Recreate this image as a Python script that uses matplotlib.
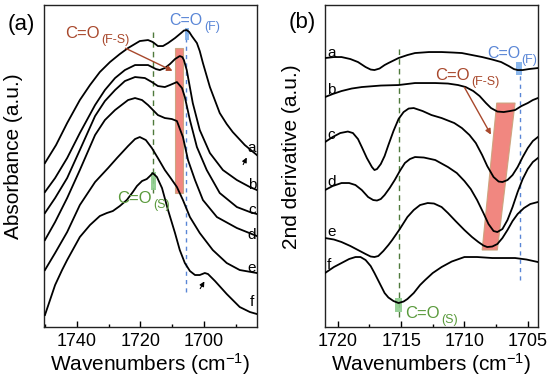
import matplotlib
matplotlib.use("Agg")
import matplotlib.pyplot as plt
from matplotlib.ticker import MultipleLocator
from matplotlib.patches import Polygon, Rectangle

plt.rcParams['font.family'] = ['Liberation Sans', 'DejaVu Sans']
plt.rcParams['mathtext.fontset'] = 'custom'
plt.rcParams['mathtext.rm'] = 'Liberation Sans'
plt.rcParams['mathtext.it'] = 'Liberation Sans:italic'

# ---------------- Panel (a): absorbance spectra ----------------
wn_a1 = [1750.1, 1746.6, 1743.1, 1739.1, 1735.9, 1732.8, 1729.6, 1726.5, 1723.9, 1720.2, 1717.6,
         1716.1, 1714.5, 1712.9, 1711.3, 1709.1, 1707.2, 1706.3, 1705.4, 1704.6, 1703.8, 1702.2,
         1701.3, 1700.3, 1698.1, 1695.0, 1692.8, 1690.9, 1687.1, 1683.3]
abs_a1 = [1.64, 1.82, 2.04, 2.27, 2.42, 2.55, 2.65, 2.73, 2.79, 2.86, 2.87,
          2.85, 2.81, 2.81, 2.84, 2.89, 2.94, 2.965, 2.97, 2.95, 2.91, 2.84,
          2.76, 2.64, 2.40, 2.14, 2.03, 1.95, 1.82, 1.72]

wn_a2 = [1750.1, 1746.9, 1743.1, 1739.1, 1734.3, 1731.2, 1728.0, 1724.9, 1721.7, 1717.6, 1715.1,
         1713.9, 1712.3, 1710.7, 1709.1, 1707.6, 1706.8, 1706.3, 1705.4, 1703.5, 1701.3, 1698.1,
         1694.0, 1689.6, 1685.5, 1683.3]
abs_a2 = [1.35, 1.49, 1.69, 1.94, 2.22, 2.37, 2.49, 2.57, 2.62, 2.62, 2.58,
          2.57, 2.59, 2.63, 2.68, 2.71, 2.70, 2.67, 2.57, 2.24, 1.97, 1.74,
          1.57, 1.47, 1.40, 1.37]

wn_a3 = [1750.1, 1746.9, 1743.1, 1739.1, 1734.3, 1731.2, 1728.0, 1724.9, 1721.7, 1718.6, 1716.4,
         1714.5, 1712.3, 1710.7, 1708.5, 1706.9, 1706.0, 1704.4, 1702.2, 1699.1, 1695.0, 1689.6,
         1685.5, 1683.3]
abs_a3 = [1.14, 1.29, 1.49, 1.77, 2.11, 2.26, 2.37, 2.46, 2.50, 2.49, 2.45,
          2.41, 2.40, 2.42, 2.45, 2.39, 2.30, 2.07, 1.80, 1.57, 1.34, 1.20,
          1.15, 1.13]

wn_a4 = [1750.1, 1746.9, 1743.1, 1739.1, 1734.3, 1731.2, 1728.0, 1723.9, 1721.7, 1719.5, 1717.6,
         1714.5, 1712.3, 1710.1, 1708.5, 1706.6, 1705.0, 1702.8, 1700.3, 1695.9, 1689.6, 1683.3]
abs_a4 = [0.87, 1.05, 1.29, 1.57, 1.92, 2.07, 2.17, 2.27, 2.29, 2.27, 2.22,
          2.12, 2.09, 2.08, 2.06, 1.90, 1.67, 1.47, 1.27, 1.10, 0.99, 0.91]

wn_a5 = [1750.1, 1746.9, 1743.1, 1739.1, 1734.3, 1730.2, 1727.4, 1723.9, 1721.7, 1720.2, 1718.3,
         1716.4, 1714.5, 1712.3, 1710.7, 1708.5, 1706.6, 1704.4, 1701.3, 1697.2, 1692.8, 1688.7,
         1683.3]
abs_a5 = [0.57, 0.74, 0.95, 1.22, 1.45, 1.59, 1.69, 1.81, 1.88, 1.90, 1.87,
          1.79, 1.69, 1.57, 1.50, 1.40, 1.27, 1.10, 0.94, 0.77, 0.64, 0.57,
          0.54]

wn_a6 = [1750.1, 1748.5, 1746.9, 1744.7, 1743.1, 1739.1, 1735.9, 1732.8, 1730.6, 1728.7, 1726.5,
         1724.3, 1722.4, 1721.1, 1719.5, 1718.0, 1717.0, 1716.1, 1714.8, 1713.2, 1711.3, 1709.1,
         1707.6, 1706.0, 1704.4, 1702.8, 1701.3, 1699.7, 1698.7, 1696.5, 1692.8, 1688.7, 1685.5,
         1683.3]
abs_a6 = [0.12, 0.27, 0.42, 0.57, 0.67, 0.90, 1.02, 1.11, 1.14, 1.16, 1.21,
          1.27, 1.35, 1.41, 1.46, 1.48, 1.51, 1.54, 1.50, 1.39, 1.17, 0.94,
          0.77, 0.64, 0.56, 0.52, 0.52, 0.54, 0.53, 0.46, 0.33, 0.20, 0.15,
          0.13]

labels_a = ['a', 'b', 'c', 'd', 'e', 'f']
label_y_a = [1.79, 1.42, 1.17, 0.92, 0.59, 0.25]

# ---------------- Panel (b): 2nd derivative spectra ----------------
wn_b1 = [1721.0, 1720.3, 1719.7, 1719.0, 1718.4, 1717.8, 1717.4, 1717.1, 1716.7, 1716.3, 1716.0,
         1715.2, 1714.5, 1713.9, 1712.8, 1711.8, 1710.9, 1710.2, 1709.4, 1708.6, 1707.8, 1707.1,
         1706.5, 1706.1, 1705.8, 1705.4, 1704.9, 1704.2]
d2_b1 = [2.69, 2.70, 2.70, 2.68, 2.65, 2.60, 2.575, 2.57, 2.585, 2.62, 2.64,
         2.69, 2.72, 2.74, 2.75, 2.75, 2.745, 2.74, 2.72, 2.70, 2.675, 2.65,
         2.61, 2.58, 2.57, 2.57, 2.58, 2.59]

wn_b2 = [1721.0, 1720.4, 1719.7, 1718.9, 1718.1, 1716.6, 1715.2, 1713.9, 1712.3, 1711.3, 1710.5,
         1709.9, 1709.3, 1708.8, 1708.3, 1707.9, 1707.4, 1706.9, 1706.4, 1706.0, 1705.5, 1705.0,
         1704.6, 1704.2]
d2_b2 = [2.30, 2.33, 2.36, 2.385, 2.40, 2.415, 2.42, 2.44, 2.44, 2.435, 2.42,
         2.40, 2.36, 2.31, 2.24, 2.19, 2.155, 2.15, 2.16, 2.17, 2.21, 2.24,
         2.27, 2.29]

wn_b3 = [1721.0, 1720.4, 1719.8, 1719.2, 1718.8, 1718.4, 1718.1, 1717.7, 1717.3, 1717.1, 1716.9,
         1716.6, 1716.3, 1716.0, 1715.6, 1715.2, 1714.8, 1714.4, 1714.0, 1713.3, 1712.6, 1711.8,
         1710.8, 1710.2, 1709.6, 1709.1, 1708.6, 1708.2, 1707.7, 1707.3, 1707.0, 1706.6, 1706.2,
         1705.8, 1705.4, 1705.0, 1704.6, 1704.2]
d2_b3 = [1.85, 1.90, 1.94, 1.955, 1.94, 1.88, 1.80, 1.69, 1.60, 1.57, 1.58,
         1.63, 1.71, 1.82, 1.96, 2.08, 2.15, 2.185, 2.19, 2.16, 2.12, 2.09,
         2.04, 1.99, 1.92, 1.84, 1.72, 1.61, 1.50, 1.455, 1.45, 1.47, 1.52,
         1.60, 1.70, 1.79, 1.86, 1.90]

wn_b4 = [1721.0, 1720.4, 1719.7, 1719.1, 1718.6, 1718.1, 1717.6, 1717.2, 1716.9, 1716.6, 1716.3,
         1715.9, 1715.5, 1715.1, 1714.7, 1714.3, 1713.9, 1713.2, 1712.3, 1711.3, 1710.6, 1710.0,
         1709.5, 1709.0, 1708.5, 1708.1, 1707.7, 1707.4, 1707.0, 1706.6, 1706.2, 1705.8, 1705.4,
         1705.0, 1704.6, 1704.2]
d2_b4 = [1.37, 1.41, 1.44, 1.44, 1.42, 1.37, 1.30, 1.27, 1.265, 1.28, 1.32,
         1.39, 1.47, 1.56, 1.64, 1.68, 1.70, 1.695, 1.67, 1.60, 1.54, 1.46,
         1.38, 1.27, 1.14, 1.03, 0.96, 0.95, 0.98, 1.07, 1.20, 1.35, 1.48,
         1.58, 1.65, 1.69]

wn_b5 = [1721.0, 1720.3, 1719.7, 1719.0, 1718.4, 1717.8, 1717.4, 1717.1, 1716.8, 1716.4, 1716.0,
         1715.7, 1715.1, 1714.5, 1714.0, 1713.5, 1712.9, 1712.4, 1711.8, 1711.3, 1710.7, 1710.0,
         1709.4, 1708.9, 1708.5, 1708.2, 1707.8, 1707.4, 1707.0, 1706.6, 1706.2, 1705.8, 1705.3,
         1704.8, 1704.2]
d2_b5 = [0.89, 0.875, 0.85, 0.81, 0.77, 0.73, 0.705, 0.70, 0.71, 0.76, 0.82,
         0.87, 0.98, 1.10, 1.17, 1.22, 1.24, 1.235, 1.20, 1.14, 1.06, 0.97,
         0.90, 0.85, 0.815, 0.80, 0.805, 0.83, 0.89, 0.97, 1.06, 1.13, 1.19,
         1.23, 1.25]

wn_b6 = [1721.0, 1720.3, 1719.7, 1719.1, 1718.6, 1718.2, 1717.8, 1717.4, 1717.1, 1716.7, 1716.3,
         1716.0, 1715.6, 1715.2, 1714.8, 1714.5, 1714.0, 1713.5, 1713.1, 1712.5, 1711.8, 1711.0,
         1710.0, 1709.0, 1707.8, 1706.9, 1706.0, 1705.1, 1704.2]
d2_b6 = [0.54, 0.60, 0.64, 0.68, 0.70, 0.70, 0.67, 0.61, 0.54, 0.44, 0.34,
         0.295, 0.26, 0.24, 0.255, 0.28, 0.34, 0.42, 0.47, 0.54, 0.60, 0.655,
         0.70, 0.70, 0.69, 0.69, 0.69, 0.675, 0.65]

label_y_b = [2.74, 2.37, 1.92, 1.45, 0.95, 0.62]

# band positions
fs_band_a = [1709.1, 1706.6]          # red bar in (a)
f_pos_a, s_pos_a = 1705.5, 1716.0
f_pos_b, s_pos_b = 1705.6, 1715.2

BROWN = '#a8482c'
BLUE = '#5a86d6'
GREEN = '#5a9a3c'
DGREEN = '#4f7a3c'
RED = '#f07a72'

fig = plt.figure(figsize=(5.5, 3.77), dpi=100)
axA = fig.add_axes([0.080, 0.1326, 0.387, 0.854])
axB = fig.add_axes([0.591, 0.1326, 0.387, 0.854])


def co_label(ax, x, y, sub, color, size=12, subsize=9):
    t = ax.text(x, y, 'C=O', color=color, fontsize=size, ha='left', va='center')
    ax.annotate(sub, xy=(1.0, 0.05), xycoords=t, xytext=(1, 0),
                textcoords='offset points', ha='left', va='center',
                color=color, fontsize=subsize)


# ---- panel (a)
series_a = [(wn_a1, abs_a1), (wn_a2, abs_a2), (wn_a3, abs_a3),
            (wn_a4, abs_a4), (wn_a5, abs_a5), (wn_a6, abs_a6)]
axA.add_patch(Rectangle((fs_band_a[1], 1.34), fs_band_a[0] - fs_band_a[1], 2.79 - 1.34,
                        facecolor=RED, edgecolor='#c9a27a', lw=0.8, alpha=0.9, zorder=1))
axA.plot([s_pos_a, s_pos_a], [1.34, 2.95], color=DGREEN, ls=(0, (4, 3)), lw=1.0, zorder=2)
axA.plot([f_pos_a, f_pos_a], [0.35, 2.97], color=BLUE, ls=(0, (3, 3)), lw=1.0, zorder=2)
axA.add_patch(Rectangle((1704.7, 2.87), 1.3, 0.12, facecolor='#7fb0ea', edgecolor='none',
                        alpha=0.9, zorder=2))
axA.add_patch(Rectangle((1715.1, 1.37), 1.6, 0.18, facecolor='#8ccc8c', edgecolor='none',
                        alpha=0.9, zorder=2))
for x, y in series_a:
    axA.plot(x, y, color='black', lw=1.3, zorder=3, solid_joinstyle='round')
for lab, ly in zip(labels_a, label_y_a):
    axA.text(1684.8, ly, lab, fontsize=11, ha='center', va='center')

axA.annotate('', xy=(1709.1, 2.55), xytext=(1725.5, 2.80),
             arrowprops=dict(arrowstyle='-|>', color=BROWN, lw=1.0, mutation_scale=8), zorder=4)
axA.annotate('', xy=(1686.1, 1.72), xytext=(1688.0, 1.60),
             arrowprops=dict(arrowstyle='-|>', color='black', lw=0.8, mutation_scale=7))
axA.annotate('', xy=(1699.4, 0.48), xytext=(1701.6, 0.36),
             arrowprops=dict(arrowstyle='-|>', color='black', lw=0.8, mutation_scale=7))
co_label(axA, 1743.8, 2.94, '(F-S)', BROWN)
co_label(axA, 1710.9, 3.07, '(F)', BLUE, size=11.5)
co_label(axA, 1727.4, 1.29, '(S)', GREEN)

axA.set_xlim(1750.4, 1683.3)
axA.set_ylim(0, 3.22)
axA.xaxis.set_major_locator(MultipleLocator(20))
axA.xaxis.set_minor_locator(MultipleLocator(10))
axA.set_yticks([])
axA.set_xlabel('Wavenumbers (cm$^{-1}$)', fontsize=15, labelpad=1)
axA.set_ylabel('Absorbance (a.u.)', fontsize=15)
axA.yaxis.set_label_coords(-0.100, 0.53)

# ---- panel (b)
series_b = [(wn_b1, d2_b1), (wn_b2, d2_b2), (wn_b3, d2_b3),
            (wn_b4, d2_b4), (wn_b5, d2_b5), (wn_b6, d2_b6)]
axB.add_patch(Polygon([(1707.45, 2.24), (1706.0, 2.24), (1707.4, 0.77), (1708.6, 0.77)],
                      closed=True, facecolor=RED, edgecolor='#c9a27a', lw=0.8, alpha=0.9, zorder=1))
axB.plot([s_pos_b, s_pos_b], [0.10, 2.80], color=DGREEN, ls=(0, (4, 3)), lw=1.0, zorder=2)
axB.plot([f_pos_b, f_pos_b], [0.47, 2.60], color=BLUE, ls=(0, (3, 3)), lw=1.0, zorder=2)
axB.add_patch(Rectangle((1705.45, 2.52), 0.45, 0.13, facecolor='#7fb0ea', edgecolor='none',
                        alpha=0.9, zorder=2))
axB.add_patch(Rectangle((1714.95, 0.15), 0.5, 0.14, facecolor='#8ccc8c', edgecolor='none',
                        alpha=0.9, zorder=2))
for x, y in series_b:
    axB.plot(x, y, color='black', lw=1.3, zorder=3, solid_joinstyle='round')
for lab, ly in zip(labels_a, label_y_b):
    axB.text(1720.85, ly, lab, fontsize=11, ha='left', va='center')

axB.annotate('', xy=(1707.8, 1.90), xytext=(1710.1, 2.42),
             arrowprops=dict(arrowstyle='-|>', color=BROWN, lw=1.0, mutation_scale=8), zorder=4)
co_label(axB, 1712.3, 2.52, '(F-S)', BROWN)
co_label(axB, 1708.2, 2.74, '(F)', BLUE, size=11.5)
co_label(axB, 1714.7, 0.14, '(S)', GREEN)

axB.set_xlim(1721.0, 1704.2)
axB.set_ylim(0, 3.22)
axB.xaxis.set_major_locator(MultipleLocator(5))
axB.xaxis.set_minor_locator(MultipleLocator(2.5))
axB.set_yticks([])
axB.set_xlabel('Wavenumbers (cm$^{-1}$)', fontsize=15, labelpad=1)
axB.set_ylabel('2nd derivative (a.u.)', fontsize=15)
axB.yaxis.set_label_coords(-0.115, 0.53)

for ax in (axA, axB):
    ax.tick_params(axis='x', which='major', direction='in', length=4, width=1, labelsize=13, pad=4)
    ax.tick_params(axis='x', which='minor', direction='in', length=2.5, width=1)
    for s in ax.spines.values():
        s.set_linewidth(1.0)
        s.set_color('#222222')

fig.text(0.038, 0.934, '(a)', fontsize=16, ha='center', va='center')
fig.text(0.549, 0.939, '(b)', fontsize=16, ha='center', va='center')

fig.savefig('out.png', dpi=100)
